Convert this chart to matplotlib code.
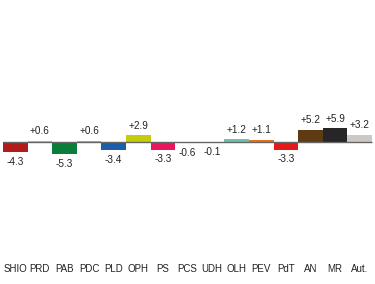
import matplotlib
matplotlib.use("Agg")
import matplotlib.pyplot as plt

# party vote change (points)
parties = ["SHIO", "PRD", "PAB", "PDC", "PLD", "OPH", "PS", "PCS", "UDH",
           "OLH", "PEV", "PdT", "AN", "MR", "Aut."]
changes = [-4.3, 0.6, -5.3, 0.6, -3.4, 2.9, -3.3, -0.6, -0.1,
           1.2, 1.1, -3.3, 5.2, 5.9, 3.2]
colors = ["#b01c1c", "#8ecde6", "#0b7d3a", "#e3a05c", "#1d5ea9", "#c6cb0c",
          "#e8175d", "#2f8f86", "#9a9a9a", "#6cc3ae", "#e8701e", "#e31a1c",
          "#5e3b12", "#262626", "#cdc8c4"]

plt.rcParams["font.family"] = ["Liberation Sans", "DejaVu Sans"]

fig = plt.figure(figsize=(3.75, 2.84), dpi=100)
ax = fig.add_axes([0, 22 / 284, 1, 262 / 284])

x = range(len(parties))
ax.bar(x, changes, width=1.0, color=colors, edgecolor="none", zorder=2)
ax.hlines(0, -0.5, len(parties) - 0.5, color="#666666", lw=1.0, zorder=3)

for i, v in enumerate(changes):
    lab = f"+{v:.1f}" if v > 0 else f"{v:.1f}"
    off = 7 if v > 0 else -7
    ax.annotate(lab, (i, v), xytext=(0, off), textcoords="offset points",
                ha="center", va="center", fontsize=7.2, color="#222222")

ax.set_xlim(-0.62, 14.62)
ax.set_ylim(-51.5, 61)
ax.set_xticks(list(x))
ax.set_xticklabels(parties, fontsize=7, color="#222222")
ax.tick_params(axis="x", length=0, pad=1.2)
ax.set_yticks([])
for s in ax.spines.values():
    s.set_visible(False)
ax.patch.set_alpha(0)

fig.savefig("out.png", dpi=100)
